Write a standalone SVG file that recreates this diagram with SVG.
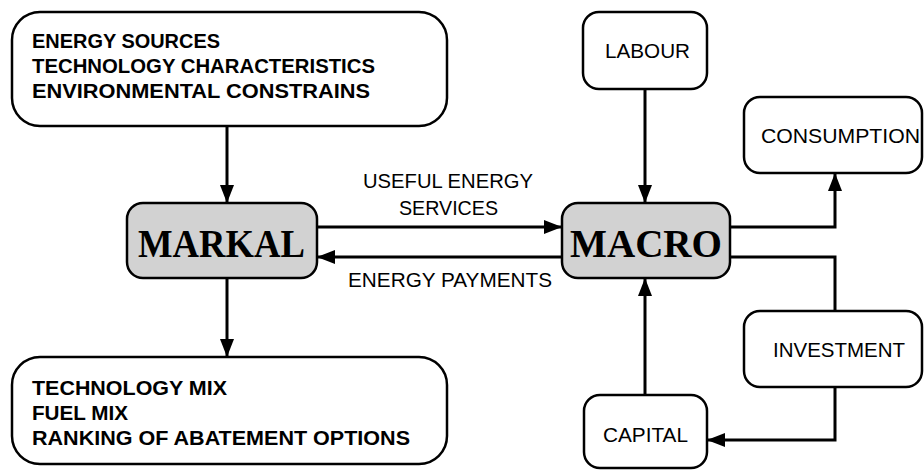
<svg xmlns="http://www.w3.org/2000/svg" width="924" height="471" viewBox="0 0 924 471">
<defs>
<marker id="ah" markerUnits="userSpaceOnUse" markerWidth="18" markerHeight="14" refX="18" refY="7" orient="auto">
<path d="M0,0 L18,7 L0,14 z" fill="#000"/>
</marker>
<style>
.box{fill:#fff;stroke:#000;stroke-width:2.5}
.core{fill:#d2d2d2;stroke:#000;stroke-width:2.5}
.b{font-family:"Liberation Sans",Arial,sans-serif;font-weight:bold;font-size:21px;fill:#000}
.t{font-family:"Liberation Sans",Arial,sans-serif;font-size:21px;fill:#000}
.big{font-family:"Liberation Serif","Times New Roman",serif;font-weight:bold;font-size:40px;fill:#000}
.c{fill:none;stroke:#000;stroke-width:3}
</style>
</defs>
<rect width="924" height="471" fill="#fff"/>
<g id="connectors">
<line class="c" x1="227" y1="126" x2="227" y2="203" marker-end="url(#ah)"/>
<line class="c" x1="227" y1="278" x2="227" y2="357" marker-end="url(#ah)"/>
<line class="c" x1="317" y1="227" x2="562" y2="227" marker-end="url(#ah)"/>
<line class="c" x1="562" y1="257" x2="317" y2="257" marker-end="url(#ah)"/>
<line class="c" x1="645" y1="89" x2="645" y2="203" marker-end="url(#ah)"/>
<line class="c" x1="645" y1="395" x2="645" y2="278" marker-end="url(#ah)"/>
<path class="c" d="M730,227 H835 V173" marker-end="url(#ah)"/>
<path class="c" d="M730,257 H835 V311"/>
<path class="c" d="M835,387 V440 H707" marker-end="url(#ah)"/>
<text class="t" x="363" y="188" textLength="170" lengthAdjust="spacingAndGlyphs">USEFUL ENERGY</text>
<text class="t" x="399" y="215" textLength="99" lengthAdjust="spacingAndGlyphs">SERVICES</text>
<text class="t" x="348" y="287" textLength="204" lengthAdjust="spacingAndGlyphs">ENERGY PAYMENTS</text>
</g>
<g id="inputs">
<rect class="box" x="12" y="12" width="435" height="114" rx="28"/>
<text class="b" x="32" y="48" textLength="188" lengthAdjust="spacingAndGlyphs">ENERGY SOURCES</text>
<text class="b" x="32" y="73" textLength="343" lengthAdjust="spacingAndGlyphs">TECHNOLOGY CHARACTERISTICS</text>
<text class="b" x="32" y="98" textLength="338" lengthAdjust="spacingAndGlyphs">ENVIRONMENTAL CONSTRAINS</text>
</g>
<g id="markal">
<rect class="core" x="127" y="203" width="190" height="75" rx="16"/>
<text class="big" x="138" y="257" textLength="167" lengthAdjust="spacingAndGlyphs">MARKAL</text>
</g>
<g id="outputs">
<rect class="box" x="12" y="357" width="435" height="107" rx="28"/>
<text class="b" x="32" y="395" textLength="195" lengthAdjust="spacingAndGlyphs">TECHNOLOGY MIX</text>
<text class="b" x="32" y="420" textLength="96" lengthAdjust="spacingAndGlyphs">FUEL MIX</text>
<text class="b" x="32" y="445" textLength="378" lengthAdjust="spacingAndGlyphs">RANKING OF ABATEMENT OPTIONS</text>
</g>
<g id="macro">
<rect class="core" x="562" y="203" width="168" height="75" rx="16"/>
<text class="big" x="570" y="257" textLength="152" lengthAdjust="spacingAndGlyphs">MACRO</text>
</g>
<g id="labour">
<rect class="box" x="583" y="12" width="124" height="77" rx="16"/>
<text class="t" x="605" y="58" textLength="85" lengthAdjust="spacingAndGlyphs">LABOUR</text>
</g>
<g id="consumption">
<rect class="box" x="744" y="97" width="178" height="76" rx="16"/>
<text class="t" x="761" y="143" textLength="159" lengthAdjust="spacingAndGlyphs">CONSUMPTION</text>
</g>
<g id="investment">
<rect class="box" x="744" y="311" width="178" height="76" rx="16"/>
<text class="t" x="773" y="357" textLength="132" lengthAdjust="spacingAndGlyphs">INVESTMENT</text>
</g>
<g id="capital">
<rect class="box" x="584" y="395" width="123" height="73" rx="16"/>
<text class="t" x="603" y="442" textLength="85" lengthAdjust="spacingAndGlyphs">CAPITAL</text>
</g>
</svg>
